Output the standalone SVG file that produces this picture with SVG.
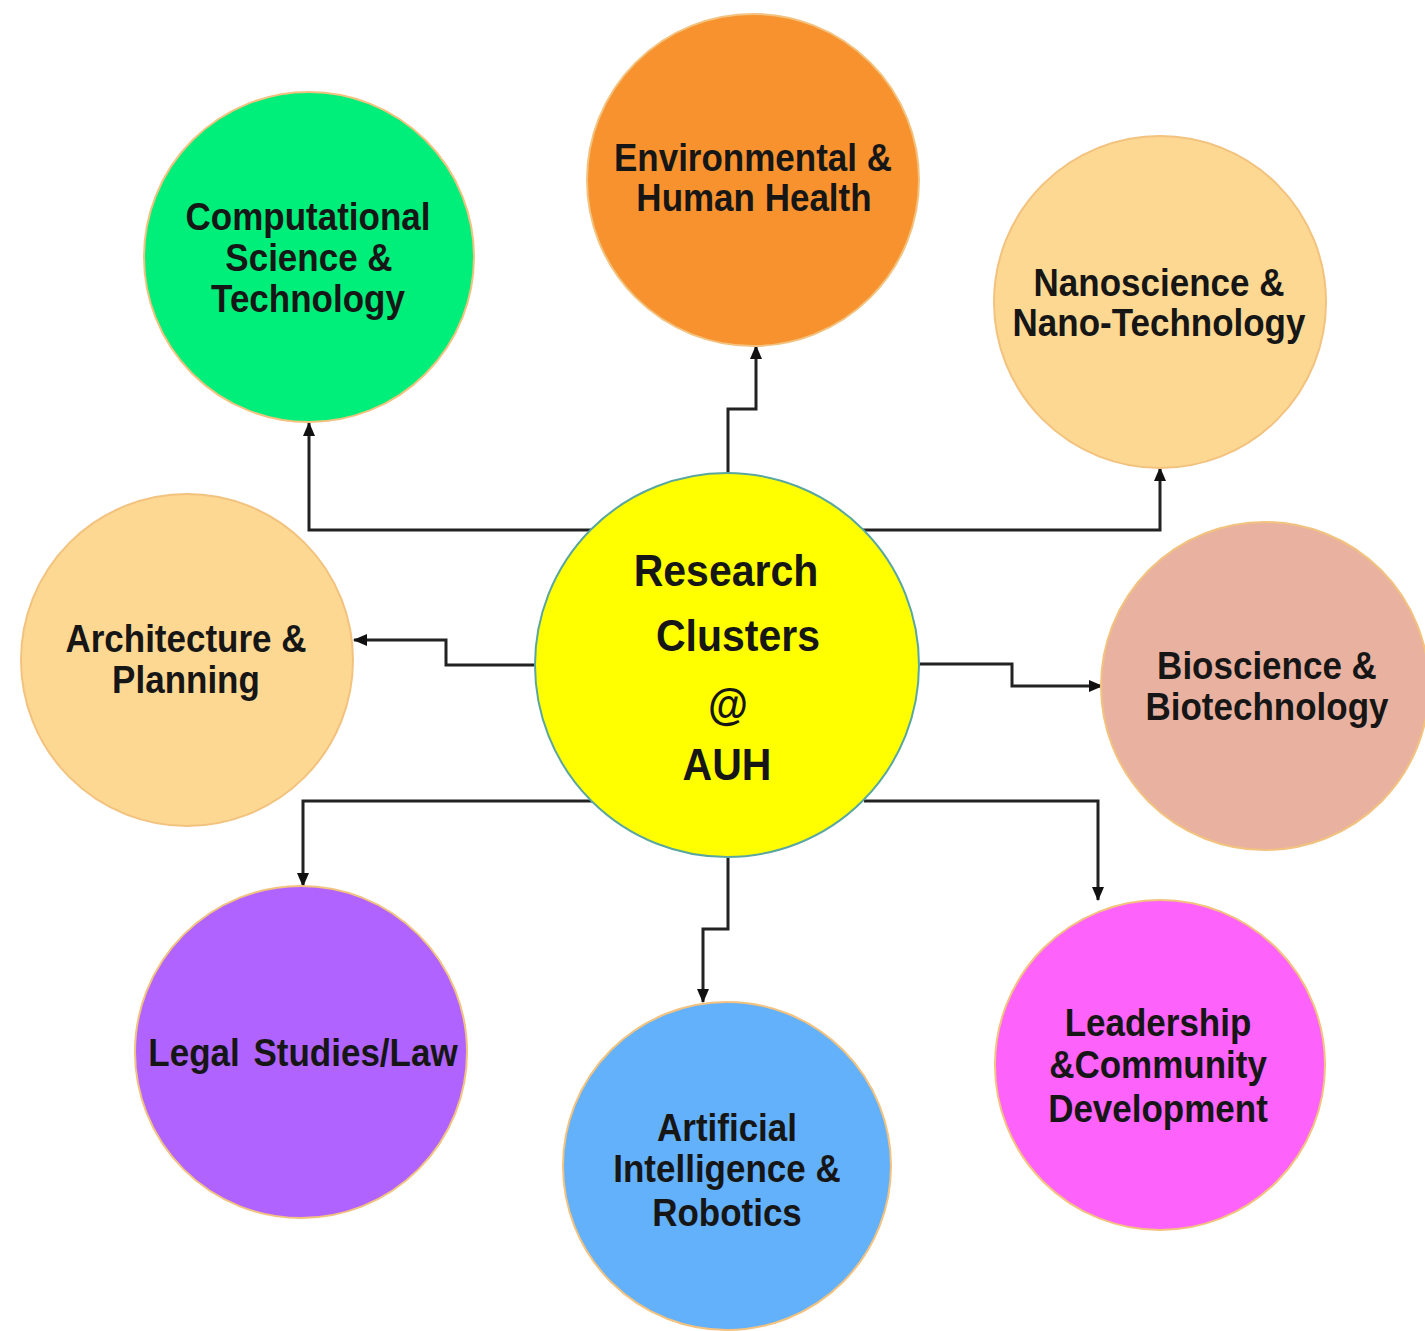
<svg xmlns="http://www.w3.org/2000/svg" width="1425" height="1331" viewBox="0 0 1425 1331">
  <style>
    .node { stroke: #f2c27e; stroke-width: 2; }
    .hub { stroke: #5aa6a0; stroke-width: 2; }
    .label { font-family: "Liberation Sans", Arial, sans-serif; font-weight: bold; font-size: 35px; fill: #161616; text-anchor: middle;
             transform-box: fill-box; transform-origin: center; transform: scaleY(1.1); }
    .hub-label { font-size: 41px; }
    .link { fill: none; stroke: #222; stroke-width: 3; marker-end: url(#arrow); }
  </style>
  <defs>
    <marker id="arrow" viewBox="0 0 14 12" refX="13" refY="6" markerWidth="14" markerHeight="12" markerUnits="userSpaceOnUse" orient="auto">
      <path d="M0,0 L14,6 L0,12 Z" fill="#111"/>
    </marker>
  </defs>

  <rect width="1425" height="1331" fill="#ffffff"/>

  <!-- connectors from the hub to each cluster -->
  <g id="connectors">
    <path class="link" d="M592,530 H309 V423"/>
    <path class="link" d="M728,473 V409 H756 V346"/>
    <path class="link" d="M862,530 H1160 V468"/>
    <path class="link" d="M536,665 H446 V640 H354"/>
    <path class="link" d="M920,664 H1012 V686 H1102"/>
    <path class="link" d="M592,801 H303 V886"/>
    <path class="link" d="M728,858 V929 H703 V1002"/>
    <path class="link" d="M864,801 H1098 V900"/>
  </g>

  <g id="computational">
    <circle class="node" cx="309" cy="257" r="165" fill="#00ee7a"/>
    <text class="label" x="308" y="229">Computational</text>
    <text class="label" x="309" y="270">Science &amp;</text>
    <text class="label" x="308" y="311">Technology</text>
  </g>

  <g id="environmental">
    <circle class="node" cx="753" cy="180" r="166" fill="#f7922f"/>
    <text class="label" x="753" y="170">Environmental &amp;</text>
    <text class="label" x="754" y="210">Human Health</text>
  </g>

  <g id="nanoscience">
    <circle class="node" cx="1160" cy="302" r="166" fill="#fdd892"/>
    <text class="label" x="1159" y="295">Nanoscience &amp;</text>
    <text class="label" x="1159" y="335">Nano-Technology</text>
  </g>

  <g id="architecture">
    <circle class="node" cx="187" cy="660" r="166" fill="#fdd892"/>
    <text class="label" x="186" y="651">Architecture &amp;</text>
    <text class="label" x="186" y="692">Planning</text>
  </g>

  <g id="bioscience">
    <circle class="node" cx="1265" cy="686" r="164" fill="#e9b2a0"/>
    <text class="label" x="1267" y="678">Bioscience &amp;</text>
    <text class="label" x="1267" y="719">Biotechnology</text>
  </g>

  <g id="legal">
    <circle class="node" cx="301" cy="1052" r="166" fill="#b063ff"/>
    <text class="label" x="303" y="1065" word-spacing="4">Legal Studies/Law</text>
  </g>

  <g id="ai-robotics">
    <circle class="node" cx="727" cy="1166" r="164" fill="#63b1fb"/>
    <text class="label" x="727" y="1140">Artificial</text>
    <text class="label" x="727" y="1181">Intelligence &amp;</text>
    <text class="label" x="727" y="1225">Robotics</text>
  </g>

  <g id="leadership">
    <circle class="node" cx="1160" cy="1065" r="165" fill="#fd62fb"/>
    <text class="label" x="1158" y="1035">Leadership</text>
    <text class="label" x="1158" y="1077">&amp;Community</text>
    <text class="label" x="1158" y="1121">Development</text>
  </g>

  <g id="hub">
    <circle class="hub" cx="727" cy="665" r="192" fill="#ffff00"/>
    <text class="label hub-label" x="726" y="585">Research</text>
    <text class="label hub-label" x="738" y="650">Clusters</text>
    <text class="label hub-label" x="728" y="719" font-size="44">@</text>
    <text class="label hub-label" x="727" y="779">AUH</text>
  </g>
</svg>
